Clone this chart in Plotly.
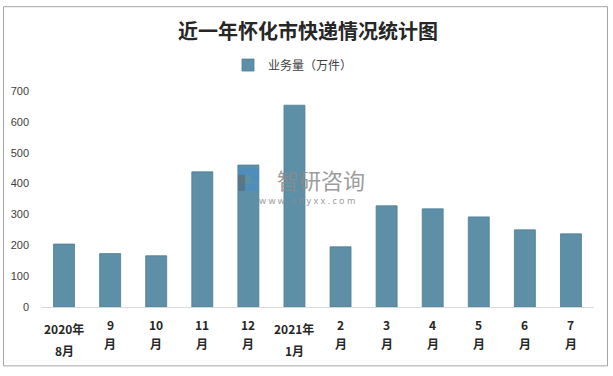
import plotly.graph_objects as go

# ---- data ----
categories = ["2020-08", "2020-09", "2020-10", "2020-11", "2020-12", "2021-01",
              "2021-02", "2021-03", "2021-04", "2021-05", "2021-06", "2021-07"]
label_top = ["2020年", "9", "10", "11", "12", "2021年", "2", "3", "4", "5", "6", "7"]
label_bottom = ["8月", "月", "月", "月", "月", "1月", "月", "月", "月", "月", "月", "月"]
volume = [204, 173, 166, 438, 460, 654, 195, 328, 318, 292, 250, 237]
series_name = "业务量（万件）"
title_text = "近一年怀化市快递情况统计图"
y_ticks = [0, 100, 200, 300, 400, 500, 600, 700]

W, H = 613, 376
L, R, T, B = 41, 19, 91, 68.5
pw, ph = W - L - R, H - T - B

def px_x(px):
    return (px - L) / pw

def px_y(py):
    return (H - B - py) / ph

bar_color = "#5D8FA7"
text_color = "#404040"

fig = go.Figure()
fig.add_trace(go.Bar(
    x=categories, y=volume, name=series_name,
    marker=dict(color=bar_color, line=dict(color="#4E7E96", width=0.8)),
    showlegend=True,
))

annotations = []
for c, t, b in zip(categories, label_top, label_bottom):
    two_line = "年" in t
    annotations.append(dict(x=c, xref="x", y=px_y(329 if two_line else 325), yref="paper",
                            text="<b>" + t + "</b>", showarrow=False, yanchor="middle",
                            font=dict(size=12, color="#262626", family="Noto Sans CJK SC")))
    annotations.append(dict(x=c, xref="x", y=px_y(351 if two_line else 344), yref="paper",
                            text="<b>" + b + "</b>", showarrow=False, yanchor="middle",
                            font=dict(size=12, color="#262626", family="Noto Sans CJK SC")))

# watermark
annotations.append(dict(x=px_x(321), y=px_y(179), xref="paper", yref="paper",
                        text="智研咨询", showarrow=False, opacity=0.85, borderpad=0,
                        font=dict(size=22, color="#8C8C8C", family="Noto Sans CJK SC")))
annotations.append(dict(x=px_x(307), y=px_y(201), xref="paper", yref="paper",
                        text="w w w . c h y x x . c o m", showarrow=False, opacity=0.85, borderpad=0,
                        font=dict(size=9, color="#8C8C8C", family="Noto Sans")))

shapes = [
    # outer border
    dict(type="rect", xref="paper", yref="paper",
         x0=px_x(3.5), x1=px_x(607.5), y0=px_y(366.5), y1=px_y(6.5),
         line=dict(color="#A6A6A6", width=1), fillcolor="rgba(0,0,0,0)", layer="below"),
    # watermark logo pieces
    dict(type="rect", xref="paper", yref="paper",
         x0=px_x(238), x1=px_x(259), y0=px_y(175), y1=px_y(168),
         line=dict(width=0), fillcolor="rgba(70,140,200,0.6)"),
    dict(type="rect", xref="paper", yref="paper",
         x0=px_x(251), x1=px_x(259), y0=px_y(182), y1=px_y(175),
         line=dict(width=0), fillcolor="rgba(70,140,200,0.6)"),
    dict(type="rect", xref="paper", yref="paper",
         x0=px_x(238), x1=px_x(259), y0=px_y(191), y1=px_y(184),
         line=dict(width=0), fillcolor="rgba(70,140,200,0.6)"),
    dict(type="rect", xref="paper", yref="paper",
         x0=px_x(238), x1=px_x(245), y0=px_y(191), y1=px_y(175),
         line=dict(width=0), fillcolor="rgba(90,90,90,0.45)"),
]

fig.update_layout(
    width=W, height=H,
    margin=dict(l=L, r=R, t=T, b=B, autoexpand=False),
    paper_bgcolor="white", plot_bgcolor="white",
    font=dict(family="Noto Sans CJK SC", color=text_color, size=11),
    title=dict(text=title_text, x=px_x(308), xanchor="center", xref="paper",
               y=1 - 32 / H, yanchor="middle",
               font=dict(size=20, color="#262626", family="Noto Sans CJK SC", weight="bold")),
    bargap=0.545,
    showlegend=True,
    legend=dict(orientation="h", x=px_x(293), xanchor="center", y=px_y(65), yanchor="middle",
                font=dict(size=12, color=text_color), bgcolor="rgba(0,0,0,0)",
                itemwidth=30),
    xaxis=dict(type="category", showticklabels=False, showline=True, linecolor="#D9D9D9",
               linewidth=1, ticks="", showgrid=False, zeroline=False),
    yaxis=dict(range=[0, 700], tickvals=y_ticks, showgrid=False, zeroline=False,
               showline=False, ticks="", ticklabelstandoff=11,
               tickfont=dict(size=11, color=text_color, family="Liberation Sans")),
    annotations=annotations,
    shapes=shapes,
)

fig.write_html("out.html", config={"displayModeBar": False},
               post_script="document.body.style.margin='0';")
